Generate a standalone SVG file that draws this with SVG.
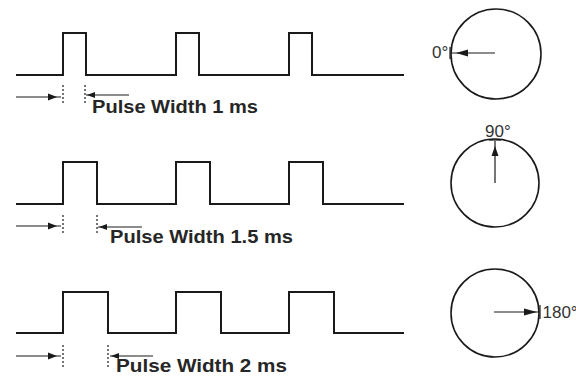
<svg xmlns="http://www.w3.org/2000/svg" width="576" height="376" viewBox="0 0 576 376">
<style>
.wave{fill:none;stroke:#1a1a1a;stroke-width:2;stroke-linejoin:miter}
.dim{fill:none;stroke:#1a1a1a;stroke-width:1.2}
.dot{fill:none;stroke:#1a1a1a;stroke-width:1.2;stroke-dasharray:2 2}
.head{fill:#1a1a1a;stroke:none}
.dial{fill:none;stroke:#1a1a1a;stroke-width:1.6}
.lbl{font-family:"Liberation Sans",Arial,sans-serif;font-weight:bold;font-size:18px;fill:#262626}
.deg{font-family:"Liberation Sans",Arial,sans-serif;font-size:17px;fill:#333}
</style>
<rect width="576" height="376" fill="#fff"/>
<g id="row1">
<polyline class="wave" points="16,75 63,75 63,33 86,33 86,75 176,75 176,33 199,33 199,75 289,75 289,33 312,33 312,75 404,75"/>
<line class="dot" x1="63" y1="85" x2="63" y2="103"/>
<line class="dot" x1="85" y1="85" x2="85" y2="103"/>
<line class="dim" x1="16" y1="97" x2="61" y2="97"/>
<polygon class="head" points="57,97 48,93.5 48,100.5"/>
<line class="dim" x1="86" y1="95" x2="129" y2="95"/>
<polygon class="head" points="87,95 95,92 95,98"/>
<text class="lbl" x="92" y="113" textLength="166" lengthAdjust="spacingAndGlyphs">Pulse Width 1 ms</text>
</g>
<g id="row2">
<polyline class="wave" points="16,204 63,204 63,162 97,162 97,204 176,204 176,162 210,162 210,204 289,204 289,162 323,162 323,204 404,204"/>
<line class="dot" x1="63" y1="215" x2="63" y2="235"/>
<line class="dot" x1="97" y1="215" x2="97" y2="235"/>
<line class="dim" x1="16" y1="226" x2="61" y2="226"/>
<polygon class="head" points="57,226 48,222.5 48,229.5"/>
<line class="dim" x1="98" y1="227" x2="142" y2="227"/>
<polygon class="head" points="99,227 107,224 107,230"/>
<text class="lbl" x="110" y="243" textLength="183" lengthAdjust="spacingAndGlyphs">Pulse Width 1.5 ms</text>
</g>
<g id="row3">
<polyline class="wave" points="16,333 63,333 63,292 108,292 108,333 176,333 176,292 221,292 221,333 289,333 289,292 334,292 334,333 404,333"/>
<line class="dot" x1="63" y1="345" x2="63" y2="367"/>
<line class="dot" x1="108" y1="345" x2="108" y2="367"/>
<line class="dim" x1="16" y1="356" x2="61" y2="356"/>
<polygon class="head" points="57,356 48,352.5 48,359.5"/>
<line class="dim" x1="110" y1="356" x2="153" y2="356"/>
<polygon class="head" points="111,356 119,353 119,359"/>
<text class="lbl" x="116" y="372" textLength="171" lengthAdjust="spacingAndGlyphs">Pulse Width 2 ms</text>
</g>
<g id="dial0">
<circle class="dial" cx="496" cy="54" r="45"/>
<line class="dim" x1="495" y1="53" x2="451" y2="53"/>
<line class="dim" x1="450" y1="47" x2="450" y2="59"/>
<polygon class="head" points="456,53 468,49.5 468,56.5"/>
<text class="deg" x="432" y="58">0°</text>
</g>
<g id="dial90">
<circle class="dial" cx="495" cy="183" r="44"/>
<line class="dim" x1="495" y1="183" x2="495" y2="141"/>
<line class="dim" x1="489" y1="140" x2="501" y2="140"/>
<polygon class="head" points="495,146 491.5,156 498.5,156"/>
<text class="deg" x="485" y="137">90°</text>
</g>
<g id="dial180">
<circle class="dial" cx="495" cy="313" r="44"/>
<line class="dim" x1="494" y1="312" x2="539" y2="312"/>
<line class="dim" x1="540" y1="305" x2="540" y2="319"/>
<polygon class="head" points="537,312 524,308.5 524,315.5"/>
<text class="deg" x="542.5" y="318" font-size="13">180°</text>
</g>
</svg>
